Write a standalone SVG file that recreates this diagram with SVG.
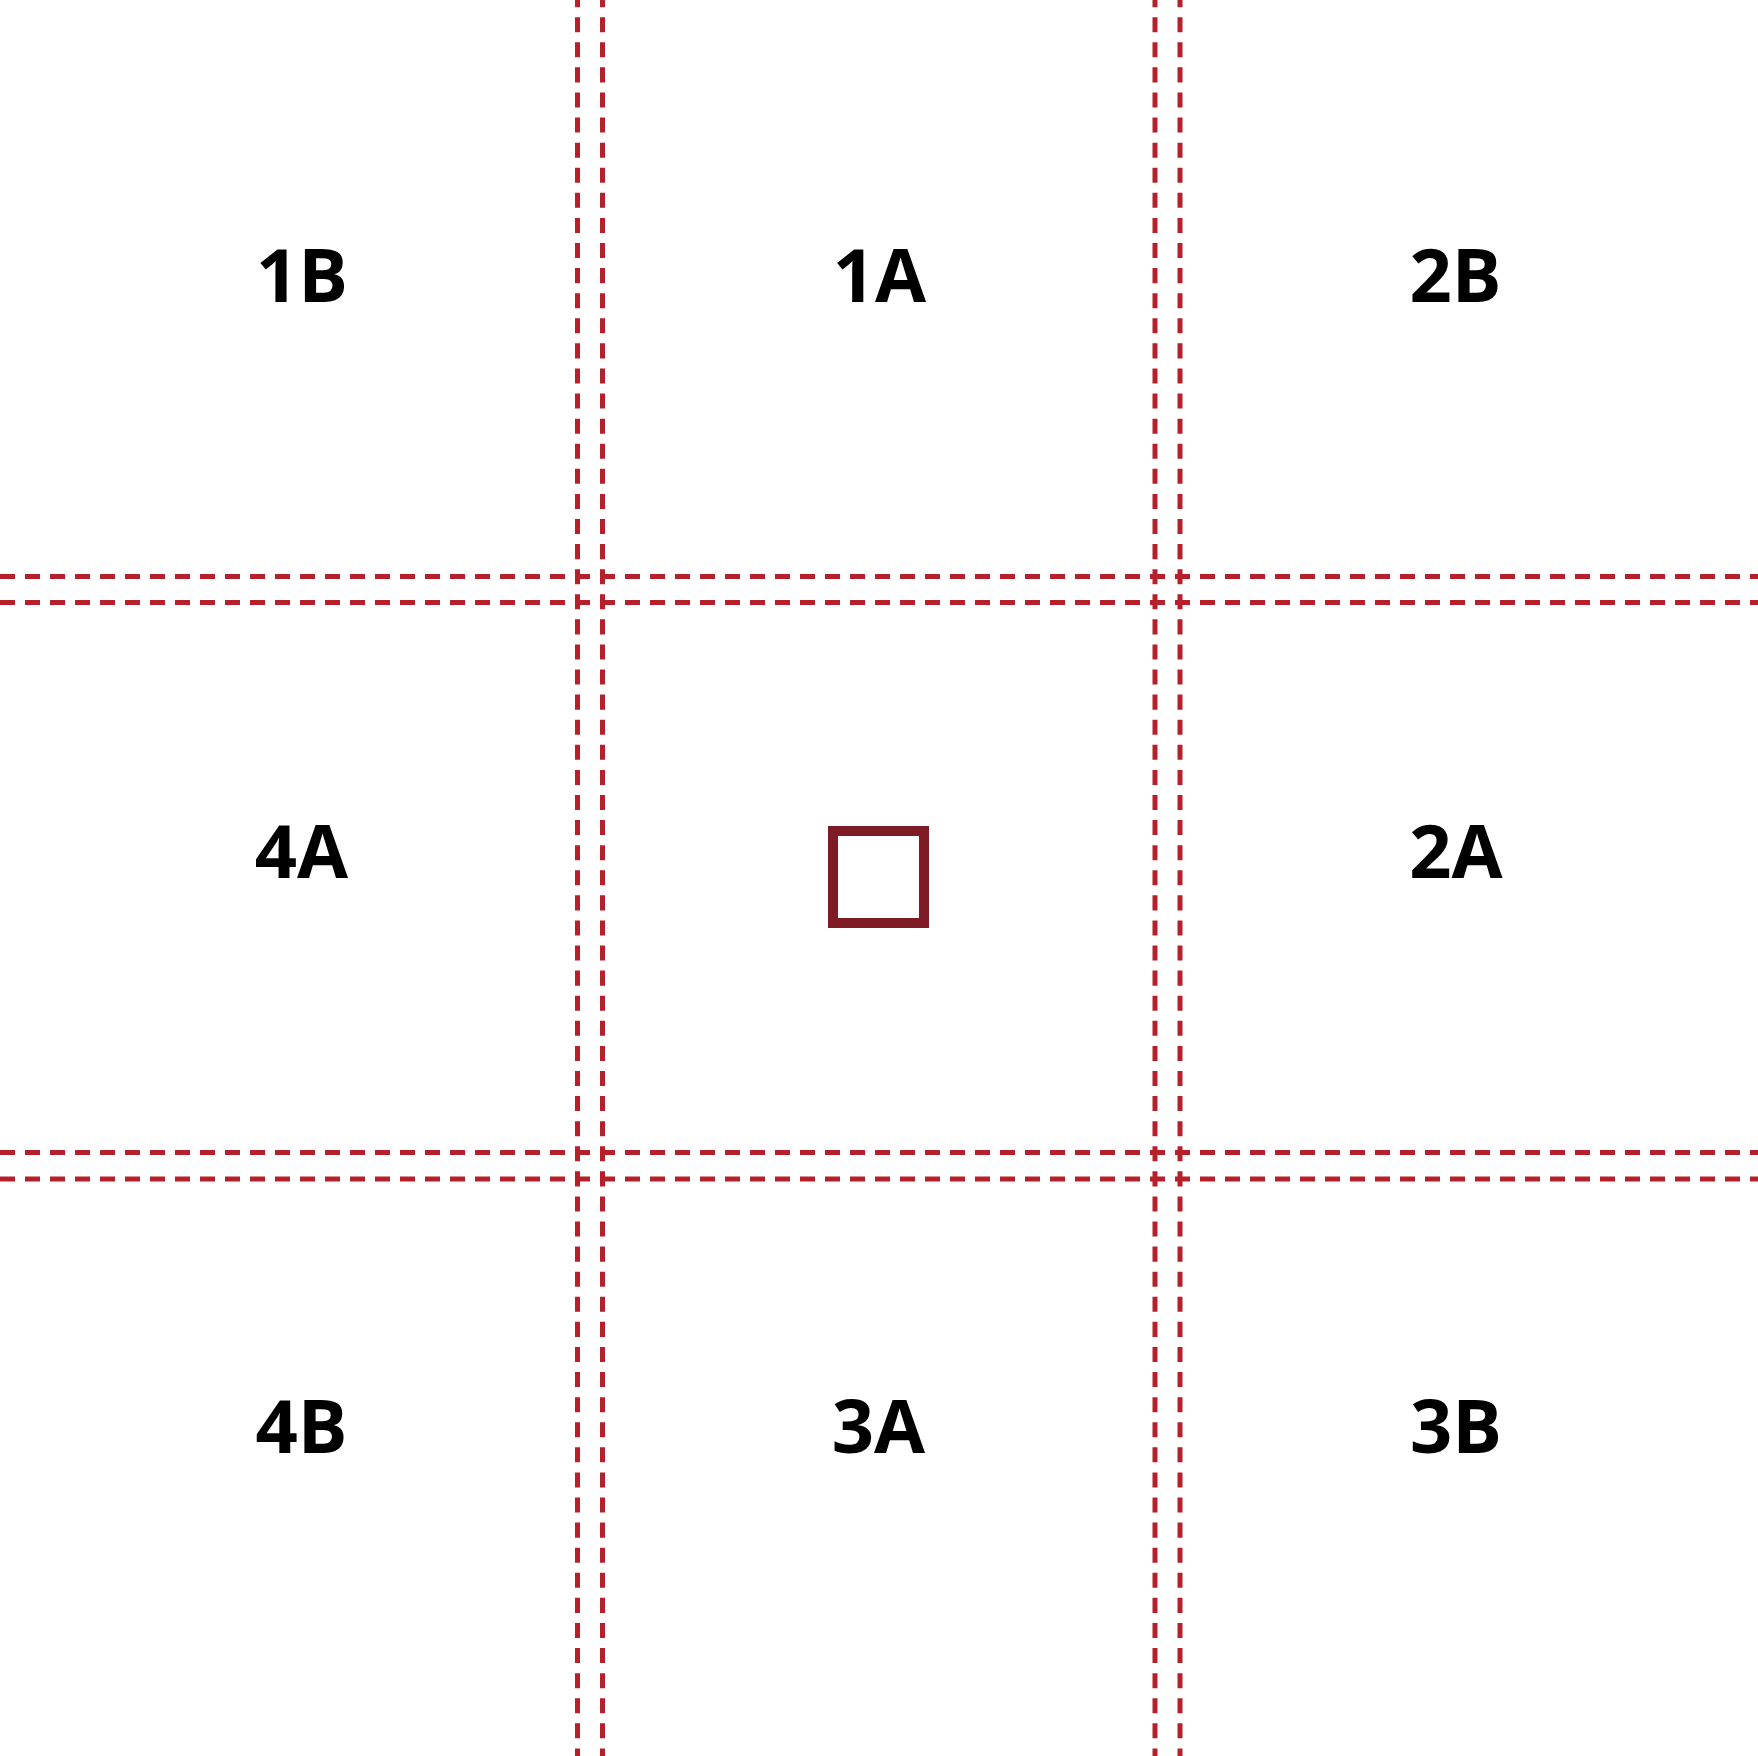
<svg xmlns="http://www.w3.org/2000/svg" width="1758" height="1756" viewBox="0 0 1758 1756">
<style>
.v{stroke:#B5202A;stroke-width:5;stroke-dasharray:15.05 10.04;stroke-dashoffset:7.9;fill:none}
.h{stroke:#B5202A;stroke-width:5;stroke-dasharray:15 10;fill:none}
.lbl{font-family:"Open Sans","Noto Sans",sans-serif;font-weight:700;font-size:74px;fill:#000;text-anchor:middle}
</style>
<rect width="1758" height="1756" fill="#fff"/>
<g id="grid">
<line class="h" x1="0" y1="576.5" x2="1758" y2="576.5"/>
<line class="h" x1="0" y1="602.5" x2="1758" y2="602.5"/>
<line class="h" x1="0" y1="1152.5" x2="1758" y2="1152.5"/>
<line class="h" x1="0" y1="1179" x2="1758" y2="1179"/>
<line class="v" x1="577.5" y1="0" x2="577.5" y2="1756"/>
<line class="v" x1="602.5" y1="0" x2="602.5" y2="1756"/>
<line class="v" x1="1155" y1="0" x2="1155" y2="1756"/>
<line class="v" x1="1180" y1="0" x2="1180" y2="1756"/>
</g>
<g id="n1B"><text class="lbl" x="302" y="302">1B</text></g>
<g id="n1A"><text class="lbl" x="879.5" y="302">1A</text></g>
<g id="n2B"><text class="lbl" x="1455.5" y="302">2B</text></g>
<g id="n4A"><text class="lbl" x="301.5" y="877.5">4A</text></g>
<g id="center"><rect x="833" y="831" width="91" height="92" fill="none" stroke="#7F1B24" stroke-width="10"/></g>
<g id="n2A"><text class="lbl" x="1456" y="877.5">2A</text></g>
<g id="n4B"><text class="lbl" x="301.5" y="1452.5">4B</text></g>
<g id="n3A"><text class="lbl" x="878.5" y="1452.5">3A</text></g>
<g id="n3B"><text class="lbl" x="1456" y="1452.5">3B</text></g>
</svg>
